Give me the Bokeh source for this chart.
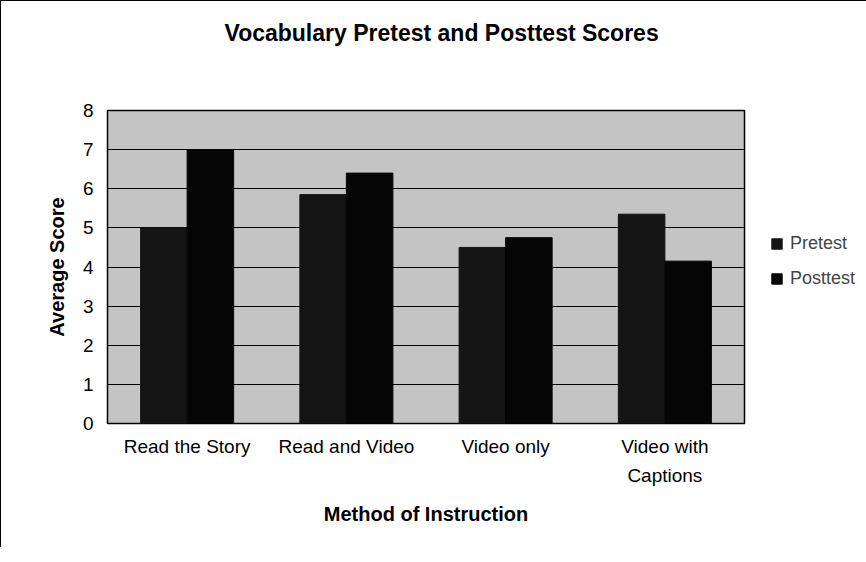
from bokeh.plotting import figure
from bokeh.models import FactorRange, Legend, LegendItem, ColumnDataSource, Title
from bokeh.transform import dodge
from bokeh.embed import file_html
from bokeh.resources import INLINE

categories = ["Read the Story", "Read and Video", "Video only", "Video with\nCaptions"]
pretest = [5.0, 5.85, 4.5, 5.35]
posttest = [7.0, 6.4, 4.75, 4.15]
y_ticks = [0, 1, 2, 3, 4, 5, 6, 7, 8]

src = ColumnDataSource(dict(cat=categories, pre=pretest, post=posttest))

p = figure(width=850, height=546, x_range=FactorRange(*categories), y_range=(0, 8),
           output_backend="svg", toolbar_location=None, title_location=None,
           min_border_left=106, min_border_right=107, min_border_top=109, min_border_bottom=124)
p.frame_width = 637
p.frame_height = 313

p.background_fill_color = "#c4c4c4"
p.border_fill_color = "white"
p.outline_line_color = "black"
p.outline_line_width = 1.5
p.styles = {"border-left": "1px solid black", "border-top": "1px solid black"}

r1 = p.vbar(x=dodge("cat", -0.146, range=p.x_range), top="pre", width=0.292, source=src,
            fill_color="#141414", line_color="#141414")
r2 = p.vbar(x=dodge("cat", 0.146, range=p.x_range), top="post", width=0.292, source=src,
            fill_color="#050505", line_color="#050505")

spacer = Title(text=" ", text_font_size="43px")
p.add_layout(spacer, "above")
title = Title(text="Vocabulary Pretest and Posttest Scores", align="left", offset=117,
              text_font="Liberation Sans", text_font_size="23px", text_font_style="bold",
              text_color="black")
p.add_layout(title, "above")

p.xgrid.grid_line_color = None
p.ygrid.grid_line_color = "black"
p.ygrid.grid_line_width = 1.2
p.yaxis.ticker = y_ticks

for ax in (p.xaxis[0], p.yaxis[0]):
    ax.axis_line_color = None
    ax.major_tick_line_color = None
    ax.minor_tick_line_color = None
    ax.major_label_text_font = "Liberation Sans"
    ax.major_label_text_font_size = "19px"
    ax.major_label_text_color = "black"
    ax.axis_label_text_font = "Liberation Sans"
    ax.axis_label_text_font_size = "20px"
    ax.axis_label_text_font_style = "bold"
    ax.axis_label_text_color = "black"

p.yaxis.axis_label = "Average Score"
p.yaxis.major_label_standoff = 8
p.yaxis.axis_label_standoff = 12
p.xaxis.axis_label = "Method of Instruction"
p.xaxis.major_label_standoff = 6
p.xaxis.major_label_text_line_height = 1.4
p.xaxis.axis_label_standoff = 14

legend = Legend(items=[LegendItem(label="Pretest", renderers=[r1]),
                       LegendItem(label="Posttest", renderers=[r2])],
                location=(26, 134), border_line_color=None, background_fill_alpha=0,
                label_text_font="Liberation Sans", label_text_font_size="18px",
                glyph_width=13, glyph_height=13, spacing=14, padding=0, margin=0,
                label_standoff=7)
p.add_layout(legend, "right")

open("out.html", "w").write(file_html(p, INLINE))
